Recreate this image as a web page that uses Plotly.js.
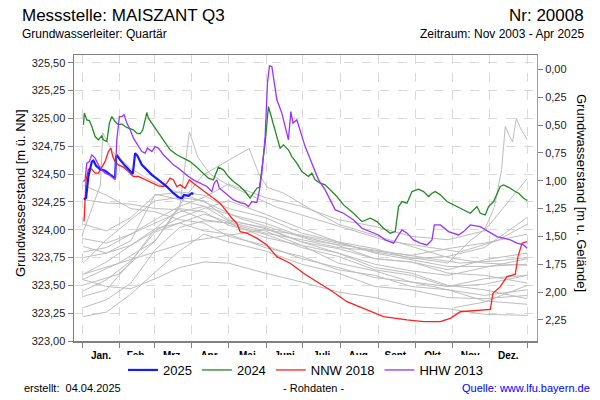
<!DOCTYPE html>
<html><head><meta charset="utf-8">
<script src="https://cdn.plot.ly/plotly-3.0.1.min.js"></script>
<style>body{margin:0;background:#fff}#chart{width:600px;height:400px}</style>
</head><body><div id="chart"></div>
<script>
// ---- axis labels ----
const monthStarts = [0,31,59,90,120,151,181,212,243,273,304,334,365];
const monthMids = [15.5,45,74.5,105,135.5,166,196.5,227.5,258,288.5,319,349.5];
const monthLabels = ['Jan.','Feb.','Mrz.','Apr.','Mai','Juni','Juli','Aug.','Sept.','Okt.','Nov.','Dez.'];
const leftTicks = [323,323.25,323.5,323.75,324,324.25,324.5,324.75,325,325.25,325.5];
const groundLevel = 325.44; // m ü. NN

// ---- highlighted years (day of year, m ü. NN) ----
const days2025 = [1.6,3.3,5.2,8.0,9.3,11.5,14.8,18.9,22.4,25.7,27.1,27.9,29.0,31.2,35.3,39.4,41.6,43.5,45.4,49.0,53.1,57.2,62.6,69.5,74.9,79.0,81.8,83.7,87.2,90.0,91.3];
const vals2025 = [324.274,324.286,324.478,324.612,324.621,324.574,324.544,324.531,324.499,324.472,324.472,324.657,324.664,324.628,324.574,324.531,324.502,324.688,324.664,324.583,324.538,324.493,324.448,324.388,324.328,324.292,324.283,324.313,324.304,324.328,324.322];

const days2024 = [1.1,1.9,3.9,6.0,8.0,10.7,13.4,16.2,17.5,20.3,22.4,24.4,27.1,29.8,32.6,35.3,38.0,40.0,42.1,44.9,47.6,49.8,53.1,54.4,57.2,61.3,66.7,72.2,77.7,83.1,88.6,94.1,99.5,103.6,107.7,111.8,115.9,120.0,124.1,129.6,133.7,137.8,140.5,143.3,145.5,147.4,150.1,152.8,155.6,159.7,162.4,165.1,169.2,172.0,176.1,180.2,185.6,188.4,191.1,195.2,199.3,203.5,208.9,214.4,222.6,229.5,236.3,241.8,247.2,252.7,256.8,259.5,262.3,266.4,270.5,275.9,280.0,284.1,286.9,289.6,293.7,299.2,304.6,312.8,318.3,323.8,326.5,330.6,333.3,337.4,342.9,345.6,351.1,355.2,357.9,362.0,365.0];
const vals2024 = [324.942,325.048,324.987,324.981,324.927,324.837,324.808,324.844,324.808,324.792,324.958,325.017,324.972,324.942,324.951,324.927,324.913,324.904,324.898,324.868,324.862,324.898,325.053,325.003,324.958,324.898,324.808,324.718,324.673,324.643,324.612,324.562,324.508,324.463,324.448,324.562,324.538,324.478,324.433,324.388,324.343,324.283,324.328,324.373,324.382,324.538,324.778,325.107,324.987,324.837,324.733,324.763,324.718,324.657,324.598,324.522,324.478,324.508,324.448,324.418,324.403,324.358,324.298,324.223,324.148,324.073,324.103,324.073,324.013,323.969,323.983,324.208,324.253,324.238,324.343,324.364,324.343,324.298,324.328,324.343,324.313,324.253,324.223,324.178,324.148,324.208,324.148,324.133,324.208,324.253,324.388,324.403,324.373,324.343,324.328,324.283,324.262];

const daysHHW2013 = [1.1,2.5,3.9,6.0,8.0,10.7,13.4,16.2,18.9,22.4,25.7,27.1,28.5,30.6,32.6,34.5,36.7,39.4,42.1,44.9,49.0,51.7,53.6,57.2,59.9,62.6,66.7,70.8,74.9,79.0,83.1,87.2,91.3,96.8,102.3,106.4,108.3,110.5,112.6,115.9,120.0,124.1,129.6,133.7,136.4,139.2,143.3,145.5,147.4,150.1,152.0,153.7,155.6,156.9,159.7,163.8,166.5,169.2,171.2,172.9,176.1,178.8,182.9,188.4,193.9,199.3,203.5,207.6,214.4,222.6,229.5,236.3,243.1,248.6,255.4,259.5,262.3,266.4,271.8,277.3,282.8,286.9,288.8,293.7,300.5,308.7,312.8,318.3,326.5,333.3,340.2,345.6,351.1,356.6,362.0,365.0];
const valsHHW2013 = [324.433,324.448,324.598,324.612,324.673,324.643,324.583,324.538,324.508,324.493,324.463,324.448,324.808,325.017,325.017,325.032,324.958,324.898,324.823,324.778,324.702,324.688,324.733,324.702,324.747,324.733,324.673,324.628,324.583,324.553,324.514,324.478,324.448,324.418,324.388,324.343,324.418,324.448,324.373,324.343,324.304,324.268,324.244,324.232,324.208,324.253,324.244,324.358,324.508,324.837,325.317,325.473,325.467,325.377,325.167,325.048,324.927,324.808,325.062,324.958,324.987,324.898,324.747,324.598,324.448,324.358,324.268,324.178,324.148,324.088,324.013,323.983,323.953,323.908,323.879,323.953,323.998,323.969,323.908,323.879,323.863,323.908,324.043,324.043,323.983,323.953,323.983,324.043,324.028,323.983,323.938,323.924,323.908,323.879,323.863,323.834];

const daysNNW2018 = [1.6,3.3,5.2,8.0,10.7,13.4,16.2,18.9,21.6,23.6,25.2,27.1,29.8,33.9,38.0,42.1,46.2,51.7,57.2,62.6,66.7,69.5,72.2,74.9,77.7,80.4,84.5,88.0,91.3,96.8,102.3,107.7,113.2,118.7,122.8,126.9,129.6,135.1,143.3,151.5,159.7,170.6,181.6,192.5,203.5,217.2,233.6,247.2,266.4,280.0,293.7,301.9,310.1,323.8,334.7,336.9,342.9,348.4,355.2,357.4,360.7,364.8];
const valsNNW2018 = [324.073,324.448,324.544,324.544,324.508,324.508,324.562,324.612,324.702,324.733,324.657,324.612,324.583,324.562,324.522,324.478,324.478,324.448,324.418,324.394,324.388,324.418,324.463,324.448,324.388,324.403,324.373,324.448,324.418,324.373,324.328,324.283,324.238,324.163,324.103,324.058,323.983,323.969,323.924,323.863,323.758,323.699,323.609,323.533,323.459,323.353,323.279,323.219,323.189,323.174,323.174,323.204,323.263,323.279,323.285,323.429,323.488,323.578,323.600,323.758,323.879,323.893];

// ---- other years (grey) ----
const greyDays = [1,20,40,60,80,100,120,150,180,210,240,270,300,330,365];
const grey2004 = [323.45,323.55,323.72,323.98,324.06,324.14,324.07,323.99,323.86,323.79,323.66,323.61,323.50,323.46,323.38];
const grey2005 = [323.30,323.37,323.52,323.82,324.02,324.08,324.06,323.93,323.86,323.70,323.63,323.53,323.46,323.36,323.33];
const grey2006 = [323.92,323.88,323.96,324.06,324.16,324.21,324.08,324.02,323.89,323.83,323.74,323.71,323.61,323.59,323.52];
const grey2007 = [324.27,324.24,324.23,324.19,324.18,324.09,324.06,323.97,323.91,323.84,323.81,323.77,323.83,323.88,323.96];
const grey2008 = [323.75,323.79,323.90,324.32,324.27,324.21,324.14,324.06,323.94,323.86,323.74,323.71,323.64,323.73,323.79];
const grey2012 = [323.22,323.26,323.42,323.62,323.81,323.96,323.89,323.81,323.69,323.61,323.49,323.46,323.39,323.38,323.41];
const grey2014 = [323.85,323.79,323.86,324.01,324.06,323.99,323.96,323.84,323.76,323.64,323.59,323.49,323.46,323.41,323.46];
const grey2015 = [324.05,323.99,324.11,324.31,324.34,324.31,324.19,324.11,323.97,323.89,323.79,323.73,323.67,323.67,323.69];
const grey2016 = [323.60,323.71,323.86,323.99,324.11,324.19,324.26,324.14,324.01,323.89,323.83,323.74,323.76,323.84,324.11];
const grey2017 = [323.55,323.49,323.47,323.56,323.66,323.71,323.70,323.61,323.53,323.44,323.39,323.31,323.29,323.24,323.23];
const grey2019 = [323.40,323.46,323.71,324.01,324.19,324.16,324.04,323.96,323.84,323.76,323.64,323.59,323.49,323.51,323.59];
const grey2020 = [323.70,323.91,324.09,324.26,324.29,324.26,324.09,324.01,323.89,323.79,323.69,323.63,323.59,323.66,323.74];
const grey2021 = [323.80,323.84,323.96,324.09,324.21,324.29,324.41,324.29,324.21,324.09,324.03,323.94,323.91,323.99,324.46];
const grey2022 = [324.40,324.31,324.19,324.16,324.09,324.06,323.94,323.86,323.74,323.66,323.57,323.53,323.49,323.56,323.59];
const days2009 = [0,15,17,25,40,55,75,100,130,160,190,220,250,280,310,340,365];
const grey2009 = [323.95,324.40,324.87,324.70,324.55,324.45,324.35,324.25,324.10,324.00,323.90,323.85,323.80,323.75,323.70,323.72,323.75];
const days2010 = [0,30,60,80,88,95,105,120,140,160,190,220,250,280,310,340,365];
const grey2010 = [323.55,323.70,323.90,324.20,324.88,324.65,324.50,324.40,324.30,324.20,324.10,324.00,323.90,323.85,323.80,323.90,324.05];
const days2011 = [0,30,60,85,99,137,145,152,165,185,210,240,270,300,330,365];
const grey2011 = [323.50,323.60,323.90,324.30,324.49,324.73,324.50,324.38,324.33,324.20,324.05,323.95,323.85,323.75,323.70,323.68];
const days2023 = [1,30,60,90,120,150,180,210,240,270,300,318,330,338,341,344,347,350,353,356,360,365];
const grey2023 = [323.60,323.70,323.80,323.90,323.95,324.00,323.95,323.88,323.80,323.75,323.70,323.90,324.00,324.20,324.36,324.54,324.93,324.85,324.79,325.00,324.90,324.81];
const days2003 = [305,330,365];
const grey2003 = [323.30,323.35,323.50];

const greyYears = [
  [greyDays,grey2004],[greyDays,grey2005],[greyDays,grey2006],[greyDays,grey2007],[greyDays,grey2008],
  [days2009,grey2009],[days2010,grey2010],[days2011,grey2011],[greyDays,grey2012],[greyDays,grey2014],
  [greyDays,grey2015],[greyDays,grey2016],[greyDays,grey2017],[greyDays,grey2019],[greyDays,grey2020],
  [greyDays,grey2021],[greyDays,grey2022],[days2023,grey2023],[days2003,grey2003]
];

const traces = greyYears.map(([d,v]) => ({
  x: d, y: v, type:'scatter', mode:'lines', showlegend:false, hoverinfo:'skip',
  line:{color:'#bdbdbd', width:1}
}));
// HHW 2013 drawn on the right-hand depth axis (m u. Gelände)
traces.push({x:daysHHW2013, y:valsHHW2013.map(v => +(groundLevel - v).toFixed(3)), yaxis:'y2', name:'HHW 2013', type:'scatter', mode:'lines', line:{color:'#9933ff', width:1.3}, legendrank:4});
traces.push({x:daysNNW2018, y:valsNNW2018, name:'NNW 2018', type:'scatter', mode:'lines', line:{color:'#ff2020', width:1.3}, legendrank:3});
traces.push({x:days2024, y:vals2024, name:'2024', type:'scatter', mode:'lines', line:{color:'#228b22', width:1.3}, legendrank:2});
traces.push({x:days2025, y:vals2025, name:'2025', type:'scatter', mode:'lines', line:{color:'#1a1aff', width:2.2}, legendrank:1});

const F = 'Liberation Sans, Arial, sans-serif';
const px = (x)=> (x-74)/463, py = (y)=> (341-y)/286;
const layout = {
  width:600, height:400,
  margin:{l:74, r:63, t:55, b:59, pad:0},
  paper_bgcolor:'#fff', plot_bgcolor:'#fff',
  separators:',.',
  font:{family:F, size:11, color:'#000'},
  showlegend:true,
  legend:{orientation:'h', x:0.5, xanchor:'center', y:py(370), yanchor:'middle', font:{size:13, family:F}, traceorder:'normal', itemwidth:30, tracegroupgap:0},
  xaxis:{
    range:[-6.6,373], tickmode:'array', tickvals:monthMids, ticktext:monthLabels,
    ticks:'', showgrid:false, zeroline:false, showline:true, linecolor:'#808080', linewidth:1.5, mirror:true,
    tickfont:{size:10, family:F, weight:'bold'}, ticklabelstandoff:4,
    minor:{tickmode:'array', tickvals:monthStarts, ticks:'outside', ticklen:5, tickcolor:'#808080', showgrid:true, gridcolor:'#d9d9d9', griddash:'dash', gridwidth:1}
  },
  yaxis:{
    range:[323,325.57], tickmode:'array', tickvals:leftTicks, tickformat:'.2f',
    ticks:'outside', ticklen:5, tickcolor:'#808080', showgrid:true, gridcolor:'#d9d9d9', griddash:'dash',
    zeroline:false, showline:true, linecolor:'#808080', linewidth:1.5, tickfont:{size:11, family:F, color:'#222'}
  },
  yaxis2:{
    overlaying:'y', side:'right', range:[groundLevel-323, groundLevel-325.57], tickmode:'linear', tick0:0, dtick:0.25, tickformat:'.2f',
    ticks:'outside', ticklen:5, tickcolor:'#808080', showgrid:false, zeroline:false, showline:true, linecolor:'#a0a0a0', linewidth:1,
    tickfont:{size:11, family:F, color:'#222'}
  },
  annotations:[
    {text:'Messstelle: MAISZANT Q3', xref:'paper', yref:'paper', x:px(20), y:py(15), xanchor:'left', yanchor:'middle', showarrow:false, font:{size:17, family:F}},
    {text:'Nr: 20008', xref:'paper', yref:'paper', x:px(586), y:py(15), xanchor:'right', yanchor:'middle', showarrow:false, font:{size:17, family:F}},
    {text:'Grundwasserleiter: Quartär', xref:'paper', yref:'paper', x:px(20), y:py(34), xanchor:'left', yanchor:'middle', showarrow:false, font:{size:12, family:F}},
    {text:'Zeitraum: Nov 2003 - Apr 2025', xref:'paper', yref:'paper', x:px(586), y:py(34), xanchor:'right', yanchor:'middle', showarrow:false, font:{size:12, family:F}},
    {text:'Grundwasserstand [m ü. NN]', xref:'paper', yref:'paper', x:px(20), y:py(193), xanchor:'center', yanchor:'middle', textangle:-90, showarrow:false, font:{size:13, family:F}},
    {text:'Grundwasserstand [m u. Gelände]', xref:'paper', yref:'paper', x:px(582), y:py(193), xanchor:'center', yanchor:'middle', textangle:90, showarrow:false, font:{size:13, family:F}},
    {text:'erstellt:  04.04.2025', xref:'paper', yref:'paper', x:px(22), y:py(388), xanchor:'left', yanchor:'middle', showarrow:false, font:{size:11, family:F}},
    {text:'- Rohdaten -', xref:'paper', yref:'paper', x:px(313), y:py(388), xanchor:'center', yanchor:'middle', showarrow:false, font:{size:11, family:F}},
    {text:'Quelle: www.lfu.bayern.de', xref:'paper', yref:'paper', x:px(592), y:py(388), xanchor:'right', yanchor:'middle', showarrow:false, font:{size:11, family:F, color:'#0000ff'}}
  ]
};
Plotly.newPlot('chart', traces, layout, {staticPlot:true, displayModeBar:false});
</script>
</body></html>
